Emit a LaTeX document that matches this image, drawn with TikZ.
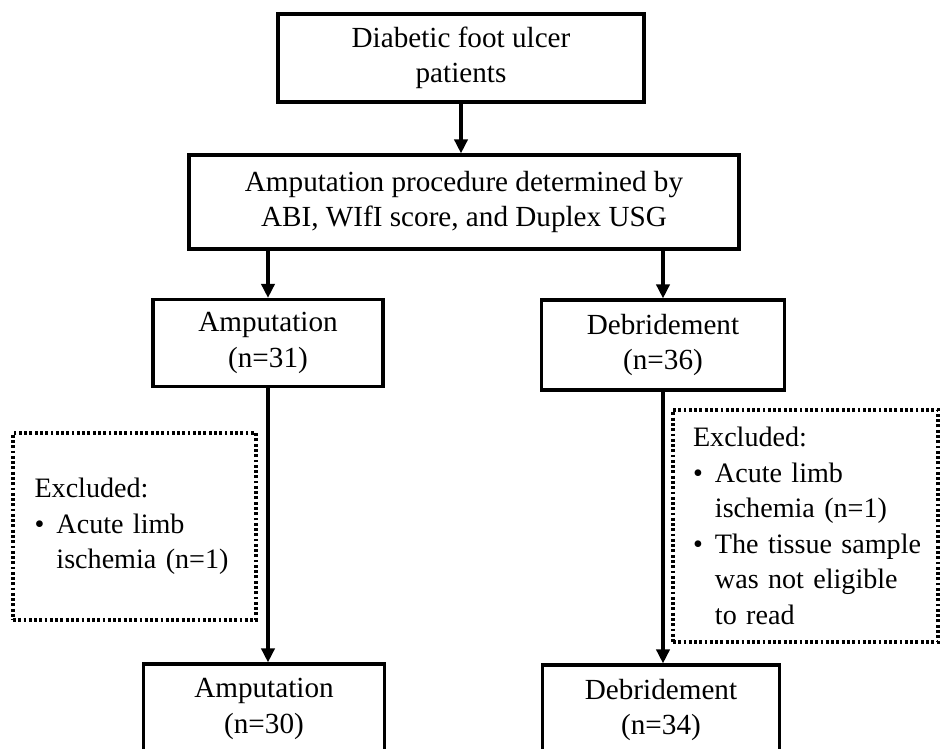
\documentclass[tikz,border=0pt]{standalone}
\usepackage{fontspec}
\setmainfont{Liberation Serif}
\usetikzlibrary{arrows.meta}
\tikzset{
  box/.style={draw,line width=1.8pt,align=center,inner sep=0pt},
  exbox/.style={draw,line width=1.8pt,dash pattern=on 1.6pt off 1.4pt,align=left,inner xsep=0.4cm,inner ysep=0pt,
    font=\fontsize{16}{20.2}\selectfont},
  arr/.style={line width=1.9pt,-{Triangle[length=8pt,width=7.5pt]}}
}
\newcommand{\bul}[1]{\mbox{\makebox[12.5pt][l]{\textbullet}#1}}
\newcommand{\ind}[1]{\mbox{\hspace*{12.5pt}#1}}

\begin{document}
\begin{tikzpicture}[x=0.02cm,y=-0.02cm,font=\fontsize{16.6}{20}\selectfont]
        \clip (0,0) rectangle (944,749);
        \node[box,minimum width=7.32cm,minimum height=1.76cm] (dfu) at (461,58) {Diabetic foot ulcer\\patients};
        \node[box,minimum width=11cm,minimum height=1.88cm] (proc) at (464,202) {Amputation procedure determined by\\ABI, WIfI score, and Duplex USG};
        \node[box,minimum width=4.6cm,minimum height=1.74cm] (amp) at (268,343) {Amputation\\(n=31)};
        \node[box,minimum width=4.86cm,minimum height=1.8cm] (deb) at (663,345) {Debridement\\(n=36)};
        \node[exbox,minimum width=4.86cm,minimum height=3.74cm,text width=4.0cm] (exa) at (134.5,526.5)
          {Excluded:\\\bul{Acute limb}\\\ind{ischemia (n=1)}};
        \node[exbox,minimum width=5.3cm,minimum height=4.64cm,text width=4.5cm] (exd) at (805.5,526)
          {Excluded:\\\bul{Acute limb}\\\ind{ischemia (n=1)}\\\bul{The tissue sample}\\\ind{was not eligible}\\\ind{to read}};
        \node[box,minimum width=4.82cm,minimum height=1.8cm] (amp2) at (264,709) {Amputation\\(n=30)};
        \node[box,minimum width=4.74cm,minimum height=1.8cm] (deb2) at (661,710) {Debridement\\(n=34)};
        \draw[arr] (dfu.south) -- (dfu.south |- proc.north);
        \draw[arr] (amp.north |- proc.south) -- (amp.north);
        \draw[arr] (deb.north |- proc.south) -- (deb.north);
        \draw[arr] (amp.south) -- (amp.south |- amp2.north);
        \draw[arr] (deb.south) -- (deb.south |- deb2.north);
      \end{tikzpicture}
\end{document}
